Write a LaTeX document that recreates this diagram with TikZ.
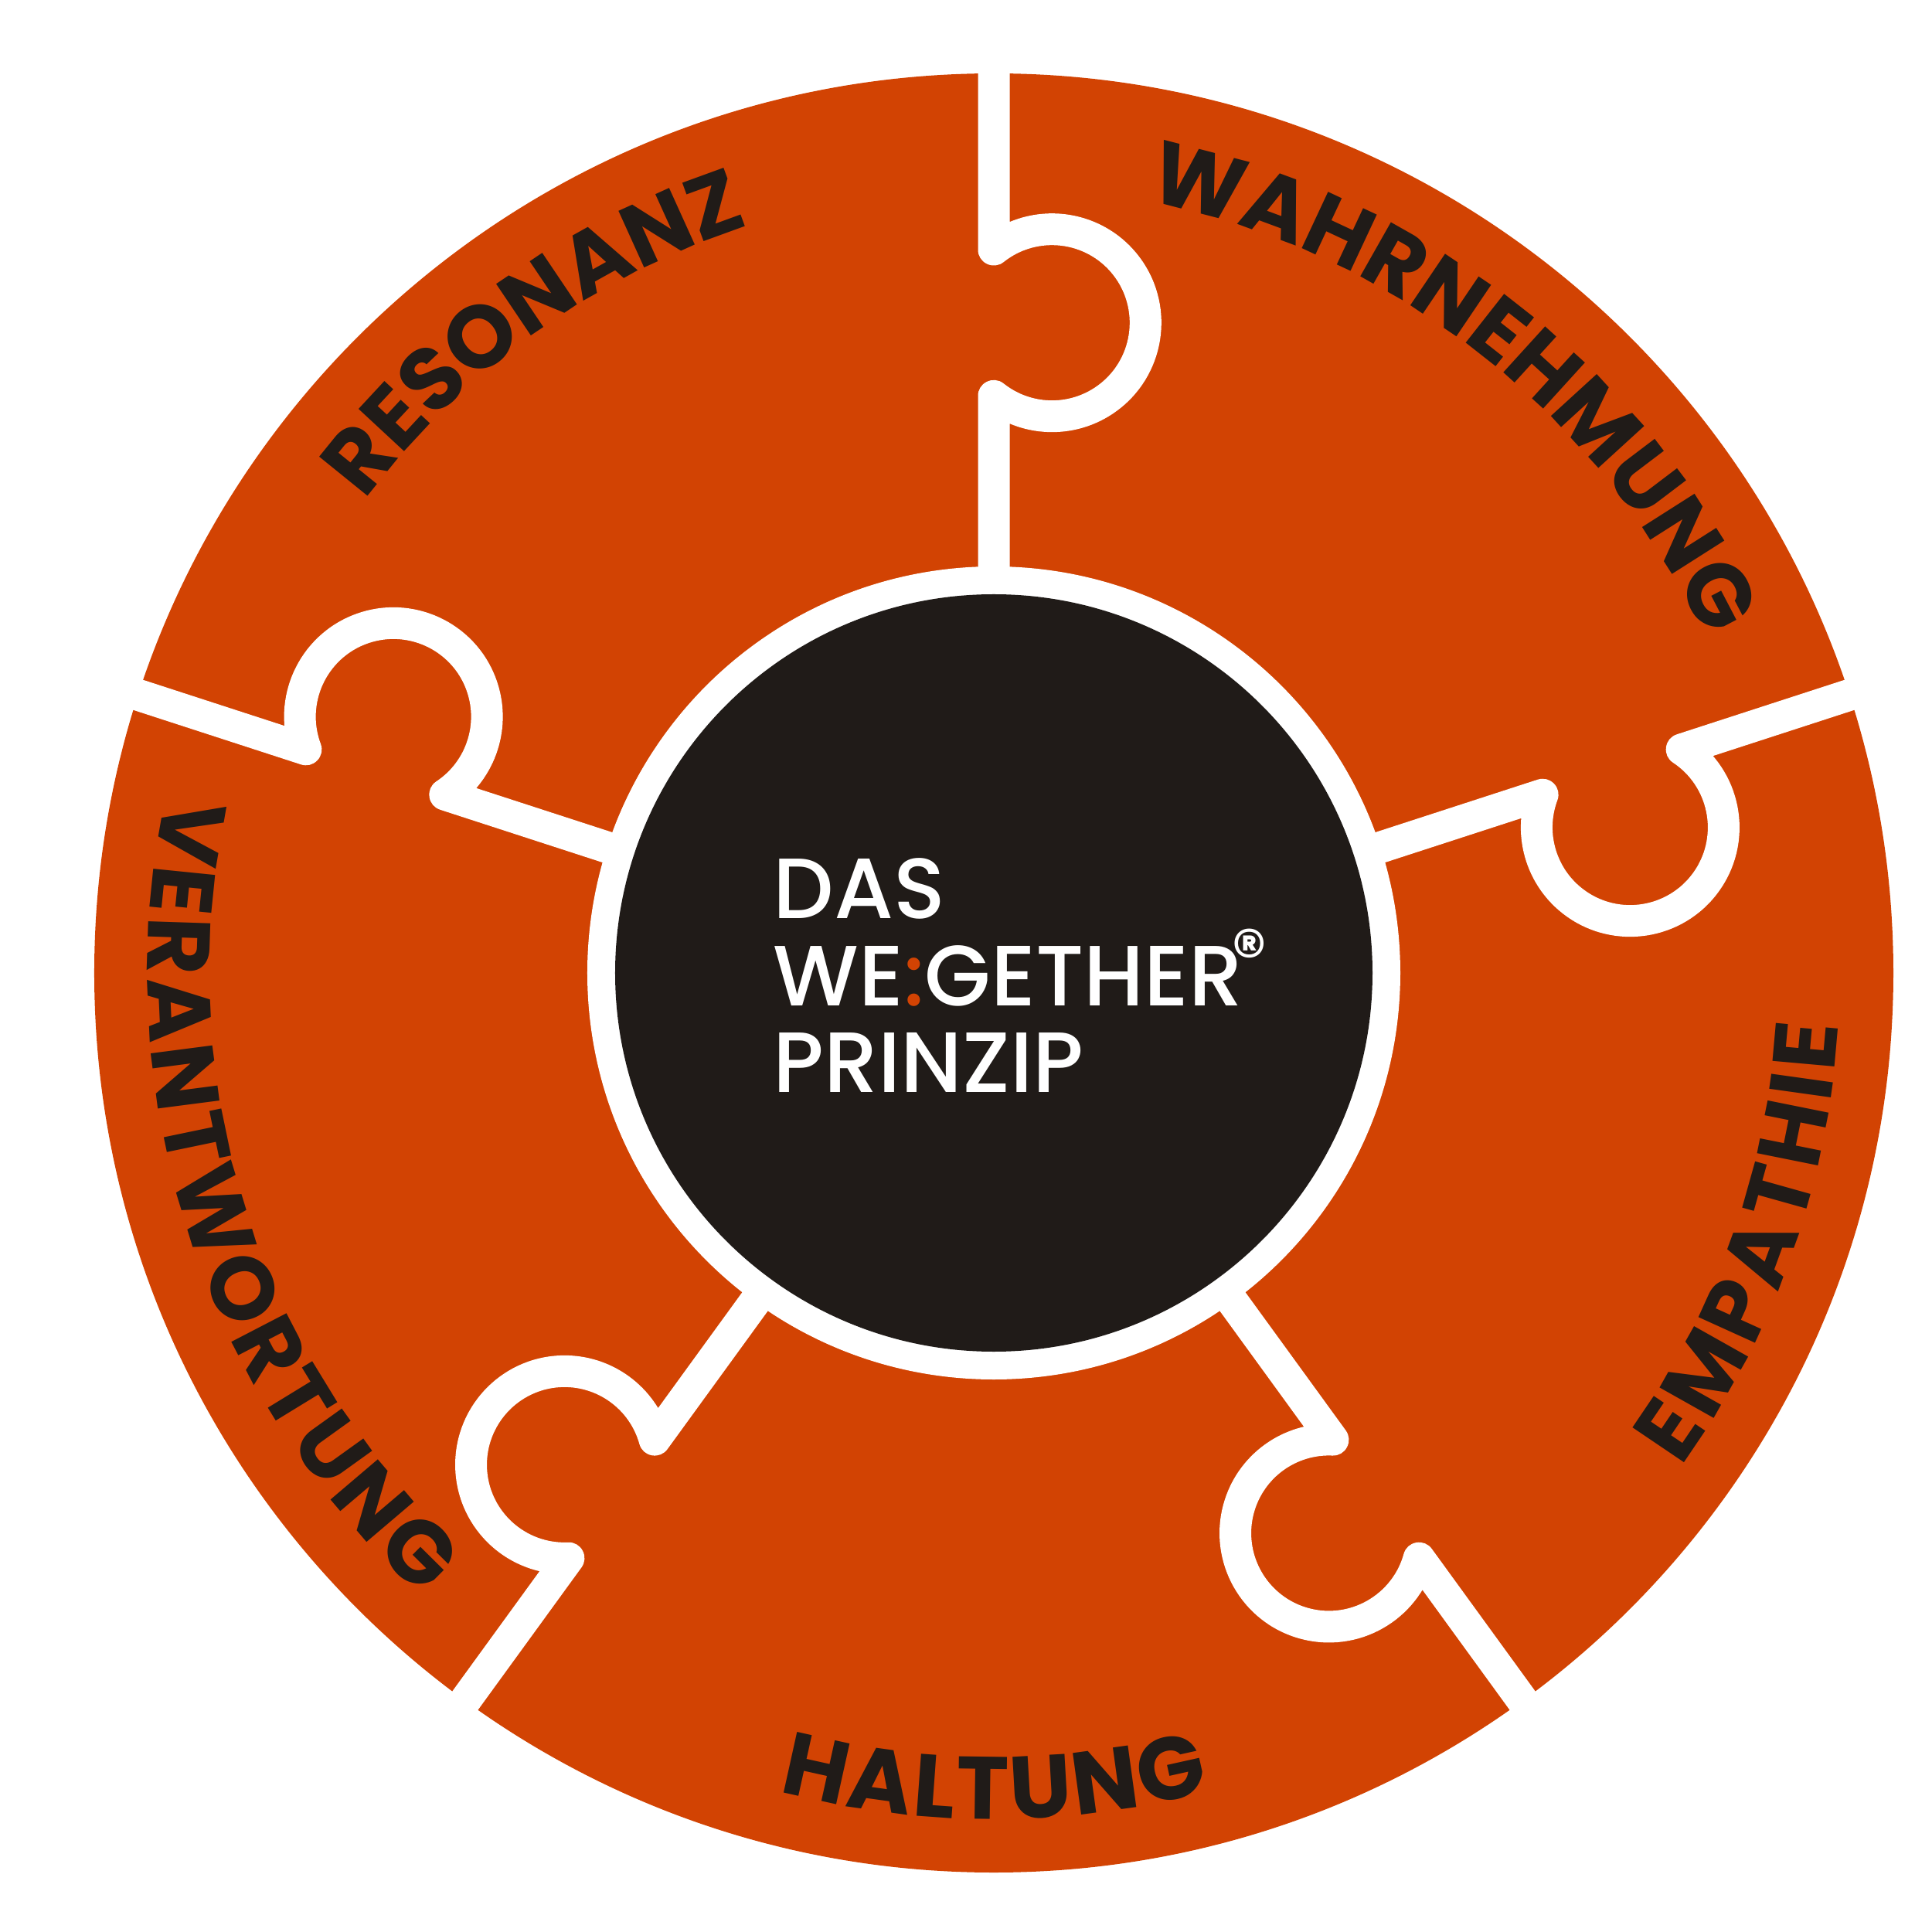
\documentclass[tikz,border=0pt]{standalone}
\usepackage{fontspec}
\setmainfont{Poppins}
\newfontfamily\wefont{Poppins Medium}
\usetikzlibrary{decorations.text}
\definecolor{weOrange}{HTML}{D24303}
\definecolor{weBlack}{HTML}{201B18}

\newcommand\arcfont{\fontsize{32.6}{36}\selectfont\bfseries}

\begin{document}
\begin{tikzpicture}[
  gap/.style={
    draw=white,
    line width=0.41cm,
    line join=round
  },
  arctext/.style={
    decorate,
    decoration={text along path, text align=center,
      text color=weBlack, text={|\arcfont|#1}}
  },
  arcfit/.style={
    decorate,
    decoration={text along path, text align=fit to path,
      text color=weBlack, text={|\arcfont|#1}}
  },
  title/.style={
    anchor=base west,
    text=white,
    inner sep=0pt,
    font=\wefont\fontsize{31.5}{36}\selectfont
  }
]
\useasboundingbox (-12.86,-12.41) rectangle (12.14,12.59);

% orange disc
\fill[weOrange] (0,0) circle[radius=11.64];

% puzzle cuts
\foreach \a in {90,18,-54,-126,162}{
  \draw[gap, rotate=\a-90] (0,11.9) -- (0,9.36)
    arc[start angle=128.5, end angle=-128.5, radius=1.21] -- (0,5.0);
}

% ring and core
\fill[white] (0,0) circle[radius=5.26];
\fill[weBlack] (0,0) circle[radius=4.90];

% labels on the pieces
\path[arctext=RESONANZ] (163.6:10.18) arc[start angle=163.6, end angle=87.6, radius=10.18];
\path[arctext=WAHRNEHMUNG] (90:10.18) arc[start angle=90, end angle=14, radius=10.18];
\path[arcfit=EMPATHIE] (-35.7:10.95) arc[start angle=-35.7, end angle=-3.5, radius=10.95];
\path[arcfit=HALTUNG] (-104.7:10.95) arc[start angle=-104.7, end angle=-75.2, radius=10.95];
\path[arcfit=VERANTWORTUNG] (167.9:10.95) arc[start angle=167.9, end angle=227.5, radius=10.95];

% centre
\node[title] (das) at (-2.86,0.70) {DAS};
\node[title] (weg) at ([yshift=-1.12cm]das.base west)
  {WE{\color{weOrange}:}GETHER\kern-0.15cm\raisebox{0.36cm}{\fontsize{25.6}{26}\selectfont ®}};
\node[title] (prinzip) at ([yshift=-1.12cm]weg.base west) {PRINZIP};

\end{tikzpicture}
\end{document}
